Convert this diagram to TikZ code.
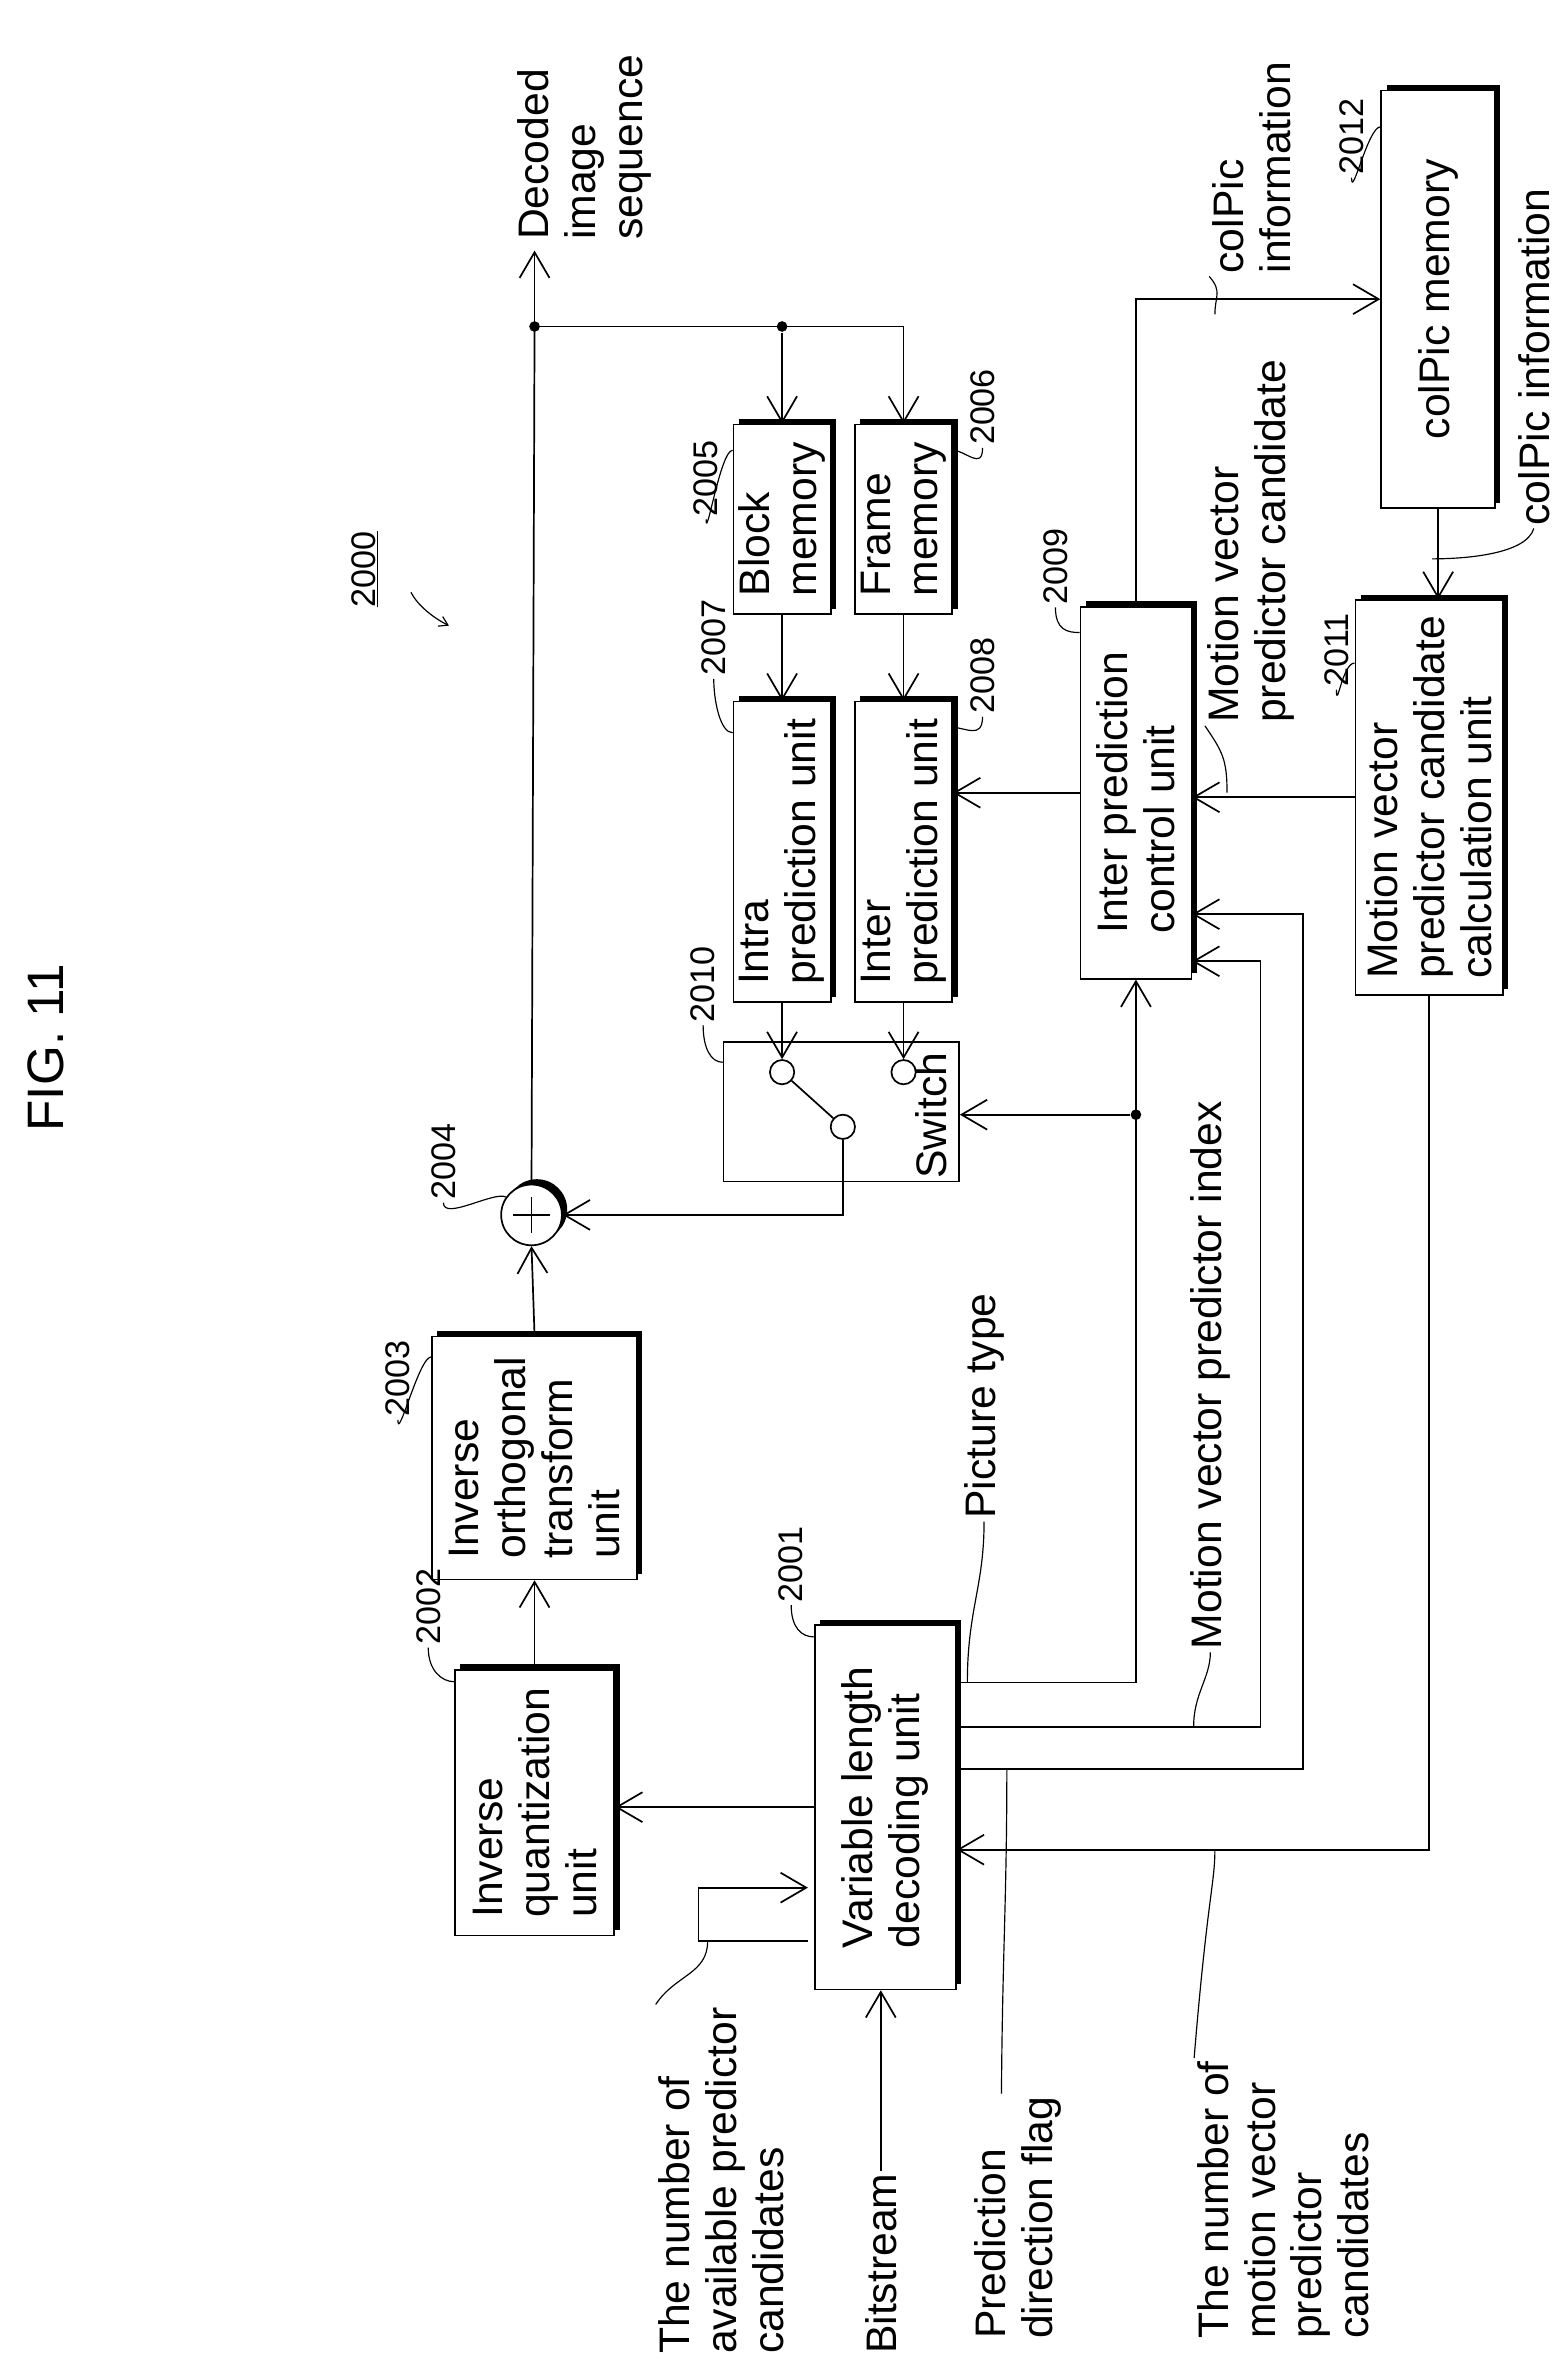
\documentclass[tikz,border=0pt]{standalone}
\usepackage{fontspec}
\setmainfont{Liberation Sans}
\usetikzlibrary{arrows.meta,shadows}
\tikzset{
  >={Straight Barb[length=24pt,width=28pt]},
  shd/.style={drop shadow={shadow xshift=5pt, shadow yshift=5pt, opacity=1, fill=black}},
  blk/.style={draw, line width=1.6pt, fill=white, rotate=90, align=left, inner sep=4pt,
    font=\fontsize{40}{44}\selectfont, shd},
  txt/.style={rotate=90, align=left, font=\fontsize{40}{44}\selectfont, inner sep=2pt},
  num/.style={rotate=90, font=\fontsize{32}{34}\selectfont, inner sep=2pt},
  lead/.style={line width=1.1pt},
  dot/.style={circle, fill, inner sep=0pt, minimum size=10pt},
  cont/.style={circle, draw, line width=1.6pt, fill=white, minimum size=0.8cm, inner sep=0pt},
}
\begin{document}
\begin{tikzpicture}[x=0.05cm,y=-0.05cm, line width=1.6pt]
  \useasboundingbox (0,0) rectangle (1024,1558);

  % title and reference number
  \node[rotate=90, font=\fontsize{48}{50}\selectfont] (fig) at (30,690) {FIG. 11};
  \node[num] (n2000) at (240,375) {\underline{2000}};
  \draw[lead, -{Straight Barb[length=8pt,width=10pt]}] (n2000.south) ++(20,15) .. controls +(5,10) and +(-8,-4) .. +(25,22);

  % blocks
  \node[blk, minimum width=8.75cm, minimum height=5.25cm] (iq) at (352,1187) {Inverse\\quantization\\unit};
  \node[blk, minimum width=8cm, minimum height=6.75cm] (iot) at (352,960) {Inverse\\orthogonal\\transform\\unit};
  \node[blk, minimum width=12cm, minimum height=4.65cm] (vld) at (583,1190) {Variable length\\decoding unit};
  \node[blk, minimum width=6.25cm, minimum height=3.2cm] (bm) at (515,342) {Block\\memory};
  \node[blk, minimum width=6.25cm, minimum height=3.2cm] (fm) at (595,342) {Frame\\memory};
  \node[blk, minimum width=9.9cm, minimum height=3.2cm] (intra) at (515,561) {Intra\\prediction unit};
  \node[blk, minimum width=9.9cm, minimum height=3.2cm] (inter) at (595,561) {Inter\\prediction unit};
  \node[blk, minimum width=12.25cm, minimum height=3.65cm] (ipc) at (748,522) {Inter prediction\\control unit};
  \node[blk, minimum width=13cm, minimum height=4.85cm] (mvp) at (941,525) {Motion vector\\predictor candidate\\calculation unit};
  \node[blk, minimum width=13.75cm, minimum height=3.75cm] (col) at (947,197) {colPic memory};

  % switch
  \node[draw, rotate=90, minimum width=4.6cm, minimum height=7.75cm] (sw) at (554,732) {};
  \node[txt, anchor=west] (swt) at (613,778) {Switch};
  \node[cont] (c1) at (515,706) {};
  \node[cont] (c2) at (595,706) {};
  \node[cont] (c3) at (555,742) {};
  \draw (c1) -- (c3);

  % adder
  \node[circle, draw, fill=white, minimum size=2cm, shd] (add) at (350,800) {};
  \draw ([yshift=-17pt]add.center) -- ([yshift=17pt]add.center);
  \draw ([xshift=-17pt]add.center) -- ([xshift=17pt]add.center);

  % reference numbers
  \node[num] (n2002) at (282,1058) {2002};
  \node[num] (n2003) at (262,908) {2003};
  \node[num] (n2001) at (521,1030) {2001};
  \node[num] (n2004) at (292,765) {2004};
  \node[num] (n2010) at (463,648) {2010};
  \node[num] (n2007) at (470,420) {2007};
  \node[num] (n2005) at (465,315) {2005};
  \node[num] (n2006) at (647,268) {2006};
  \node[num] (n2008) at (647,445) {2008};
  \node[num] (n2009) at (695,373) {2009};
  \node[num] (n2011) at (880,428) {2011};
  \node[num] (n2012) at (890,90) {2012};
  \draw[lead] (n2002.west) .. controls +(0,15) and +(-8,0) .. ([yshift=-12pt]iq.north east);
  \draw[lead] (n2003.west) .. controls +(0,15) and +(-8,0) .. ([yshift=-20pt]iot.north east);
  \draw[lead] (n2001.west) .. controls +(0,15) and +(-8,0) .. ([yshift=-12pt]vld.north east);
  \draw[lead] (n2004.west) .. controls +(0,12) and +(-8,-4) .. (add.145);
  \draw[lead] (n2010.west) .. controls +(0,15) and +(-8,0) .. ([yshift=-20pt]sw.north east);
  \draw[lead] (n2007.west) .. controls +(0,15) and +(-8,0) .. ([yshift=-30pt]intra.north east);
  \draw[lead] (n2005.west) .. controls +(0,15) and +(-8,0) .. ([yshift=-25pt]bm.north east);
  \draw[lead] (n2006.west) .. controls +(0,15) and +(8,0) .. ([yshift=-25pt]fm.south east);
  \draw[lead] (n2008.west) .. controls +(0,15) and +(8,0) .. ([yshift=-25pt]inter.south east);
  \draw[lead] (n2009.west) .. controls +(0,15) and +(-8,0) .. ([yshift=-25pt]ipc.north east);
  \draw[lead] (n2011.west) .. controls +(0,15) and +(-8,0) .. ([yshift=-60pt]mvp.north east);
  \draw[lead] (n2012.west) .. controls +(0,15) and +(-8,0) .. ([yshift=-35pt]col.north east);

  % outer labels
  \node[txt, anchor=west] (dec) at (385,160) {Decoded\\image\\sequence};
  \node[txt, anchor=west] (lav) at (475,1552) {The number of\\available predictor\\candidates};
  \node[txt, anchor=west] (bs) at (580,1552) {Bitstream};
  \node[txt, anchor=west] (lpdf) at (670,1542) {Prediction\\direction flag};
  \node[txt, anchor=west] (lnm) at (845,1542) {The number of\\motion vector\\predictor\\candidates};
  \node[txt, anchor=west] (lpt) at (648,1002) {Picture type};
  \node[txt, anchor=west] (lmi) at (797,1088) {Motion vector predictor index};
  \node[txt, anchor=west] (lmc) at (824,478) {Motion vector\\predictor candidate};
  \node[txt, anchor=west] (lci) at (824,182) {colPic\\information};
  \node[txt, anchor=west] (lci2) at (1010,348) {colPic information};

  % ports
  \coordinate (out) at (352,165);
  \coordinate (j1) at (352,215);
  \node[dot] (j2) at (515,215) {};
  \node[dot] at (j1) {};
  \coordinate (p1) at (630,1108);
  \coordinate (p2) at (630,1137);
  \coordinate (p3) at (630,1165);
  \coordinate (p4) at (630,1218);
  \coordinate (q2) at (785,633);
  \coordinate (q3) at (785,602);
  \coordinate (a1) at (532,1278);
  \coordinate (a2) at (532,1243);
  \node[dot] (jsw) at (748,734) {};

  % connectors
  \draw[->] (bs.east) -- (bs.east |- vld.west);
  \draw[->] (a1) -- (460,1278) -- (460,1243) -- (a2);
  \draw[->] (vld.north) -- (vld.north -| iq.south);
  \draw[->] (iq.east) -- (iot.west);
  \draw[->] (iot.east) -- (add.south);
  \draw (add.north) -- (j1);
  \draw[->] (j1) -- (out);
  \draw[->] (j1) -| (fm.east);
  \draw[->] (j2) -- (bm.east);
  \draw[->] (bm.west) -- (intra.east);
  \draw[->] (fm.west) -- (inter.east);
  \draw[->] (intra.west) -- (c1);
  \draw[->] (inter.west) -- (c2);
  \draw[->] (c3) |- (add.east);
  \draw[->] (p1) -| (ipc.west);
  \draw[->] (jsw) -- (jsw -| sw.south);
  \draw[->] (p2) -- (830,1137) -- (830,633) -- (q2);
  \draw[->] (p3) -- (858,1165) -- (858,602) -- (q3);
  \draw[->] (mvp.west) |- (p4);
  \draw[->] (mvp.north) -- (mvp.north -| ipc.south);
  \draw[->] (ipc.north) -- (ipc.north -| inter.south);
  \draw[->] (ipc.east) |- (col.north);
  \draw[->] (col.west) -- (col.west |- mvp.east);

  % label leaders
  \draw[lead] (637,1108) .. controls (637,1060) and (648,1045) .. (lpt.west);
  \draw[lead] (786,1137) .. controls (786,1115) and (797,1105) .. (lmi.west);
  \draw[lead] (663,1165) .. controls (663,1250) and (660,1290) .. ([xshift=-15pt]lpdf.east);
  \draw[lead] (800,1218) .. controls (800,1240) and (795,1250) .. (lnm.north east);
  \draw[lead] (466,1278) .. controls (466,1300) and (445,1300) .. (lav.north east);
  \draw[lead] (808,522) .. controls (808,500) and (805,495) .. (lmc.north west);
  \draw[lead] (800,207) .. controls (800,195) and (805,192) .. (lci.north west);
  \draw[lead] (943,368) .. controls (965,368) and (1005,365) .. (lci2.west);
\end{tikzpicture}
\end{document}
